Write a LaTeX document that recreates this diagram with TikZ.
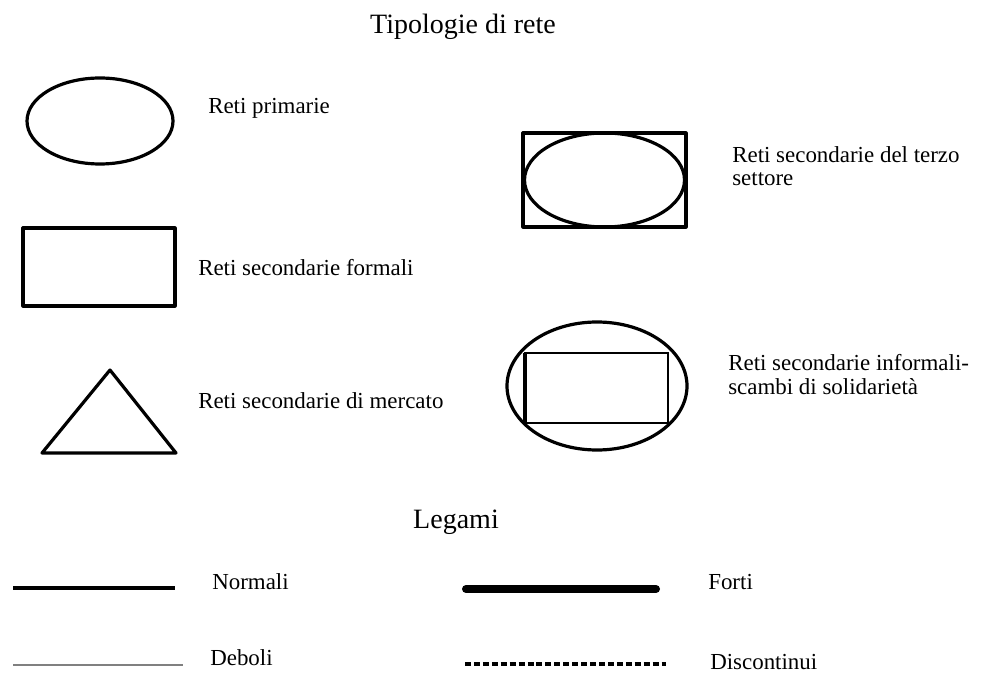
\documentclass[tikz,border=0pt]{standalone}
\usepackage{fontspec}
\setmainfont{Liberation Serif}
\begin{document}
\begin{tikzpicture}[x=0.75pt,y=-0.75pt,
  shapeline/.style={line width=2.4pt,line join=round},
  thinline/.style={line width=1.5pt},
  lbl/.style={anchor=base west,inner sep=0pt,font=\fontsize{17.2}{18}\selectfont},
  ttl/.style={anchor=base,inner sep=0pt,font=\fontsize{21}{24}\selectfont}]
\useasboundingbox (0,0) rectangle (989,677);
\node[ttl] (title) at (463,34) {Tipologie di rete};
% primary
\draw[shapeline] (100,121) ellipse [x radius=73,y radius=43];
\node[lbl] (t1) at (208,114) {Reti primarie};
% formal
\draw[shapeline] (23,228) rectangle (175,306);
\node[lbl] (t2) at (198,276) {Reti secondarie formali};
% market
\draw[shapeline] (110,370) -- (176,453) -- (42,453) -- cycle;
\node[lbl] (t3) at (198,408) {Reti secondarie di mercato};
% third sector
\draw[shapeline] (523,133) rectangle (686,227);
\draw[shapeline] (604.5,180) ellipse [x radius=80,y radius=47];
\node[lbl] (t4a) at (732,163) {Reti secondarie del terzo};
\node[lbl] (t4b) at (732,186) {settore};
% informal
\draw[shapeline] (597,386) ellipse [x radius=90,y radius=64];
\draw[thinline] (525,353) rectangle (668,423);
\draw[shapeline] (525,353) -- (525,423);
\node[lbl] (t5a) at (728,370) {Reti secondarie informali-};
\node[lbl] (t5b) at (728,394) {scambi di solidarietà};
% links
\node[ttl] (legami) at (456,528) {Legami};
\coordinate (n1) at (13,588); \coordinate (n2) at (175,588);
\draw[line width=3pt] (n1) -- (n2);
\node[lbl] (tn) at (212,589) {Normali};
\coordinate (f1) at (466,589); \coordinate (f2) at (656,589);
\draw[line width=6pt,line cap=round] (f1) -- (f2);
\node[lbl] (tf) at (708,589) {Forti};
\coordinate (d1) at (13,665); \coordinate (d2) at (183,665);
\draw[line width=2pt,gray] (d1) -- (d2);
\node[lbl] (td) at (210,665) {Deboli};
\coordinate (c1) at (465,664); \coordinate (c2) at (666,664);
\draw[line width=2.4pt,dash pattern=on 4.5pt off 2.2pt] (c1) -- (c2);
\node[lbl] (tc) at (710,669) {Discontinui};
\end{tikzpicture}
\end{document}
